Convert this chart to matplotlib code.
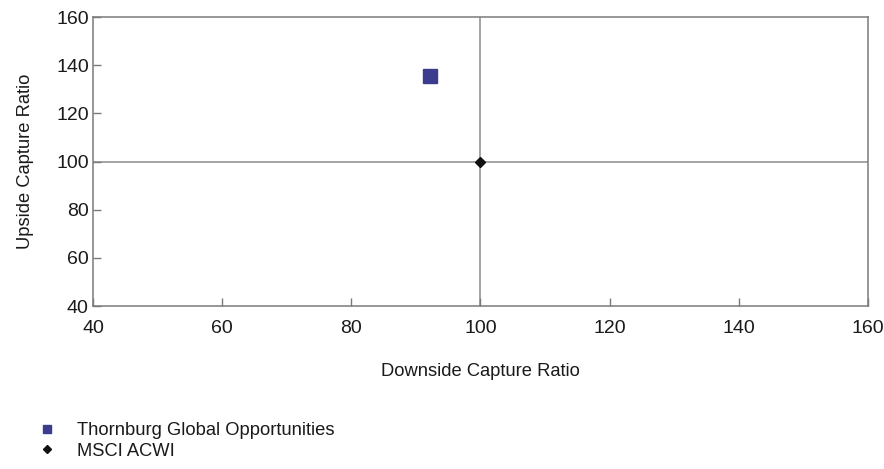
import matplotlib
matplotlib.use("Agg")
import matplotlib.pyplot as plt
from matplotlib.lines import Line2D

plt.rcParams['font.family'] = ['Liberation Sans', 'DejaVu Sans']

# Capture ratios (downside, upside)
series_names = ["Thornburg Global Opportunities", "MSCI ACWI"]
downside = [92.2, 100.0]
upside = [135.5, 100.0]
markers = ["s", "D"]
colors = ["#3c3c8e", "#111111"]
sizes = [10, 5]

x_ticks = [40, 60, 80, 100, 120, 140, 160]
y_ticks = [40, 60, 80, 100, 120, 140, 160]

fig = plt.figure(figsize=(8.84, 4.69), dpi=100)
ax = fig.add_axes([93 / 884, 1 - 306 / 469, 775 / 884, 289 / 469])

ax.set_xlim(40, 160)
ax.set_ylim(40, 160)

# Crosshair at the benchmark
ax.axvline(100, color="#8c8c8c", lw=1.1, zorder=1)
ax.axhline(100, color="#8c8c8c", lw=1.1, zorder=1)

for x, y, m, c, s in zip(downside, upside, markers, colors, sizes):
    ax.plot([x], [y], marker=m, color=c, markersize=s, linestyle="none", zorder=3)

for sp in ax.spines.values():
    sp.set_color("#7a7a7a")
    sp.set_linewidth(1.1)

ax.set_xticks(x_ticks)
ax.set_yticks(y_ticks)
ax.tick_params(direction="in", length=6, width=1, color="#7a7a7a",
               labelsize=14, labelcolor="#1a1a1a", pad=3)
ax.tick_params(axis="x", pad=10)

ax.set_xlabel("Downside Capture Ratio", fontsize=13.2, color="#1a1a1a", labelpad=19)
ax.set_ylabel("Upside Capture Ratio", fontsize=13.2, color="#1a1a1a", labelpad=16)

handles = [Line2D([], [], marker=m, color=c, markersize=s * 0.65, linestyle="none")
           for m, c, s in zip(markers, colors, [9, 6])]
fig.legend(handles, series_names, loc="upper left", bbox_to_anchor=(0.035, 0.116),
           frameon=False, fontsize=13.2, handletextpad=1.1, labelspacing=0.2,
           borderaxespad=0, handlelength=1.0, labelcolor="#1a1a1a")

fig.savefig("out.png", dpi=100, facecolor="white")
